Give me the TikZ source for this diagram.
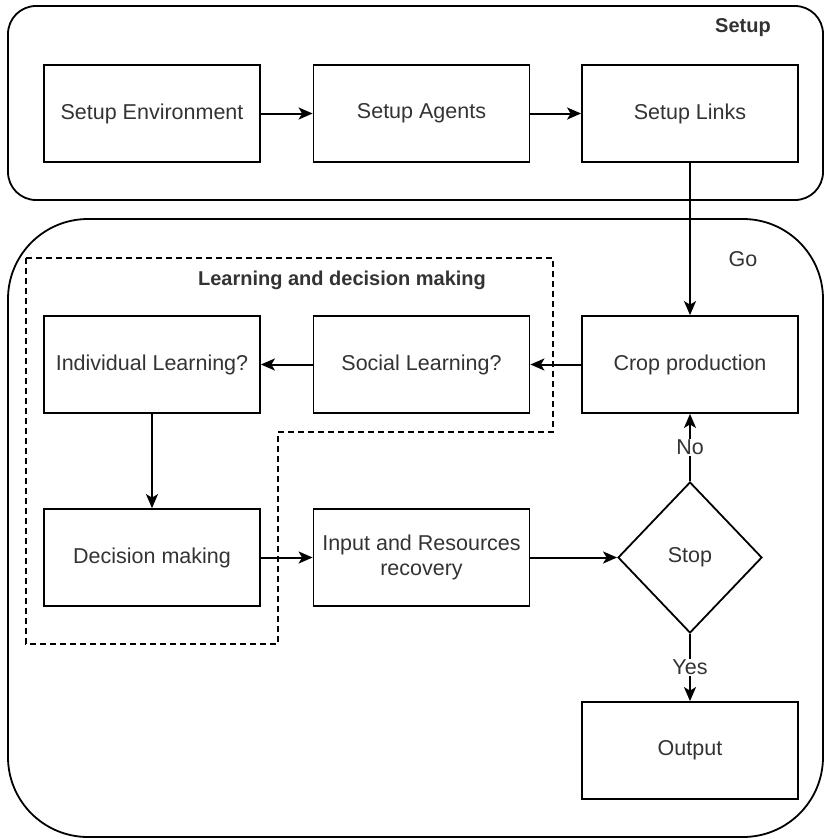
\documentclass[tikz,border=0pt]{standalone}
\usepackage{fontspec}
\setmainfont{Liberation Sans}
\usetikzlibrary{shapes.geometric,arrows.meta}

\begin{document}
\begin{tikzpicture}[x=1pt,y=-1pt,line width=1.8pt,>={Stealth[length=14pt,width=12pt,inset=3.5pt]}]

		\tikzstyle{every node}=[font=\fontsize{21.5}{25}\selectfont, text=black!80]
		\tikzstyle{stepbox}=[draw=black, minimum width=216pt, minimum height=97pt, align=center]
		\tikzstyle{decide}=[draw=black, diamond, inner sep=0pt, minimum width=144pt, minimum height=151pt]
		\tikzstyle{title}=[font=\fontsize{20}{24}\selectfont\bfseries]
		\tikzstyle{link}=[->, line width=2pt]

		\useasboundingbox (0,0) rectangle (825,839);

		% containers
		\draw[rounded corners=28pt] (8,6) rectangle (823,200);
		\draw[rounded corners=80pt] (8,219) rectangle (823,837);
		\draw[dash pattern=on 6pt off 4pt] (26,258) -- (553,258) -- (553,432) -- (278,432) -- (278,644) -- (26,644) -- cycle;

		\node[title] (setuplabel) at (743,28) {Setup};
		\node (golabel) at (743,259) {Go};
		\node[title] (learnlabel) at (342,280) {Learning and decision making};

		% setup row
		\node[stepbox] (env) at (152,113.5) {Setup Environment};
		\node[stepbox] (agents) at (421.5,113.5) {Setup Agents};
		\node[stepbox] (links) at (690,113.5) {Setup Links};

		% go loop
		\node[stepbox] (crop) at (690,364.5) {Crop production};
		\node[stepbox] (social) at (421.5,364.5) {Social Learning?};
		\node[stepbox] (indiv) at (152,364.5) {Individual Learning?};
		\node[stepbox] (decision) at (152,557.5) {Decision making};
		\node[stepbox] (input) at (421.5,557.5) {Input and Resources\\recovery};
		\node[decide] (stop) at (690,557.5) {Stop};
		\node[stepbox] (output) at (690,750.5) {Output};

		\draw[link] (env) -- (agents);
		\draw[link] (agents) -- (links);
		\draw[link] (links) -- (crop);
		\draw[link] (crop) -- (social);
		\draw[link] (social) -- (indiv);
		\draw[link] (indiv) -- (decision);
		\draw[link] (decision) -- (input);
		\draw[link] (input) -- (stop);
		\draw[link] (stop) -- node[fill=white, inner sep=1pt] {No} (crop);
		\draw[link] (stop) -- node[fill=white, inner sep=1pt] {Yes} (output);

\end{tikzpicture}
\end{document}
